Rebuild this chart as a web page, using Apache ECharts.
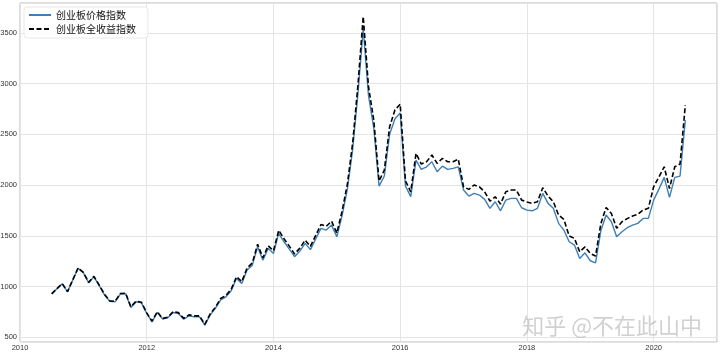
<!DOCTYPE html>
<html>
<head>
<meta charset="utf-8">
<script src="https://cdn.jsdelivr.net/npm/echarts@6/dist/echarts.min.js"></script>
<style>
html,body{margin:0;padding:0;background:#fff;}
#chart{width:720px;height:353px;}
</style>
</head>
<body>
<div id="chart"></div>
<script>
// Monthly month-end observations, June 2010 .. June 2020
const firstYear = 2010;
const firstMonth = 6;
const seriesNames = ['创业板价格指数', '创业板全收益指数'];
const xTickYears = [2010, 2012, 2014, 2016, 2018, 2020];
const yTickValues = [500, 1000, 1500, 2000, 2500, 3000, 3500];

const priceIndex = [
  929, 980, 1028, 949, 1065, 1180, 1136, 1038, 1097, 1010, 920, 855,
  851, 926, 930, 795, 851, 840, 736, 654, 746, 680, 693, 746,
  736, 680, 713, 703, 703, 621, 720, 786, 870, 900, 960, 1081,
  1032, 1163, 1212, 1392, 1261, 1377, 1327, 1524, 1442, 1370, 1295, 1350,
  1426, 1365, 1470, 1574, 1557, 1606, 1491, 1700, 1960, 2350, 2900, 3540,
  2880, 2560, 1990, 2090, 2500, 2650, 2710, 1990, 1887, 2246, 2155, 2180,
  2230, 2131, 2187, 2155, 2165, 2180, 1951, 1892, 1918, 1902, 1859, 1771,
  1836, 1747, 1852, 1869, 1869, 1777, 1754, 1747, 1771, 1918, 1820, 1771,
  1623, 1557, 1442, 1409, 1278, 1333, 1255, 1235, 1550, 1705, 1639, 1491,
  1540, 1580, 1606, 1623, 1672, 1672, 1852, 1960, 2076, 1879, 2076, 2089,
  2640
];

const totalReturnIndex = [
  929, 981, 1030, 951, 1068, 1184, 1140, 1042, 1102, 1015, 925, 860,
  856, 932, 936, 801, 858, 847, 742, 660, 753, 687, 700, 754,
  744, 688, 722, 712, 712, 629, 730, 797, 883, 914, 975, 1098,
  1049, 1183, 1233, 1417, 1284, 1403, 1353, 1555, 1472, 1399, 1322, 1379,
  1458, 1396, 1504, 1611, 1594, 1645, 1528, 1743, 2010, 2413, 2985, 3659,
  2969, 2640, 2040, 2148, 2574, 2739, 2798, 2040, 1934, 2312, 2207, 2230,
  2296, 2214, 2263, 2230, 2230, 2256, 1983, 1958, 2000, 1983, 1934, 1842,
  1885, 1813, 1934, 1951, 1951, 1852, 1833, 1820, 1836, 1974, 1892, 1836,
  1705, 1662, 1500, 1475, 1343, 1392, 1327, 1301, 1620, 1780, 1721, 1574,
  1639, 1670, 1695, 1714, 1754, 1771, 1983, 2080, 2180, 1967, 2180, 2207,
  2788
];

// decimal-year position of each month end
const monthPos = priceIndex.map((_, i) => firstYear + (firstMonth + i) / 12);

const chart = echarts.init(document.getElementById('chart'), null, {renderer: 'canvas'});

const axisFont = {fontFamily: '"Liberation Sans", "DejaVu Sans", sans-serif', fontSize: 7.5, color: '#333'};

chart.setOption({
  animation: false,
  backgroundColor: '#ffffff',
  grid: {
    left: 20, right: 3, top: 3, bottom: 11,
    containLabel: false,
    outerBoundsMode: 'none',
    show: true, borderColor: '#b8b8b8', borderWidth: 1, backgroundColor: 'transparent'
  },
  legend: {
    orient: 'vertical',
    left: 24, top: 7,
    padding: [2, 12, 3, 4],
    borderColor: '#e8e8e8', borderWidth: 1, borderRadius: 3,
    backgroundColor: 'rgba(255,255,255,0.8)',
    itemWidth: 22, itemHeight: 10, itemGap: 2,
    itemStyle: {opacity: 0, borderWidth: 0, color: 'rgba(0,0,0,0)'},
    textStyle: {fontFamily: '"Noto Sans CJK SC", sans-serif', fontSize: 10, color: '#111', lineHeight: 12},
    data: seriesNames
  },
  xAxis: {
    type: 'value',
    min: 2010, max: 2021,
    minInterval: 2, maxInterval: 2,
    axisLine: {show: false},
    axisTick: {show: false},
    axisLabel: Object.assign({margin: 2, showMaxLabel: false, formatter: v => xTickYears.includes(v) ? String(v) : ''}, axisFont),
    splitLine: {show: true, lineStyle: {color: '#e4e4e4', width: 1}}
  },
  yAxis: {
    type: 'value',
    min: 455, max: 3793,
    minInterval: 500, maxInterval: 500,
    axisLine: {show: false},
    axisTick: {show: false},
    axisLabel: Object.assign({margin: 3, showMinLabel: false, showMaxLabel: false, formatter: v => yTickValues.includes(v) ? String(v) : ''}, axisFont),
    splitLine: {show: true, lineStyle: {color: '#e4e4e4', width: 1}}
  },
  series: [
    {
      name: seriesNames[0],
      type: 'line',
      symbol: 'none',
      data: monthPos.map((x, i) => [x, priceIndex[i]]),
      lineStyle: {color: '#3f7fb5', width: 1.4},
      itemStyle: {color: '#3f7fb5'},
      z: 2
    },
    {
      name: seriesNames[1],
      type: 'line',
      symbol: 'none',
      data: monthPos.map((x, i) => [x, totalReturnIndex[i]]),
      lineStyle: {color: '#000000', width: 1.6, type: [5, 2.5]},
      itemStyle: {color: '#000000'},
      z: 3
    }
  ],
  graphic: [{
    type: 'text',
    right: 18, bottom: 16,
    style: {
      text: '知乎 @不在此山中',
      font: '22px "Noto Sans CJK SC", sans-serif',
      fill: 'rgba(170,170,170,0.55)'
    },
    z: 10
  }]
});
</script>
</body>
</html>
